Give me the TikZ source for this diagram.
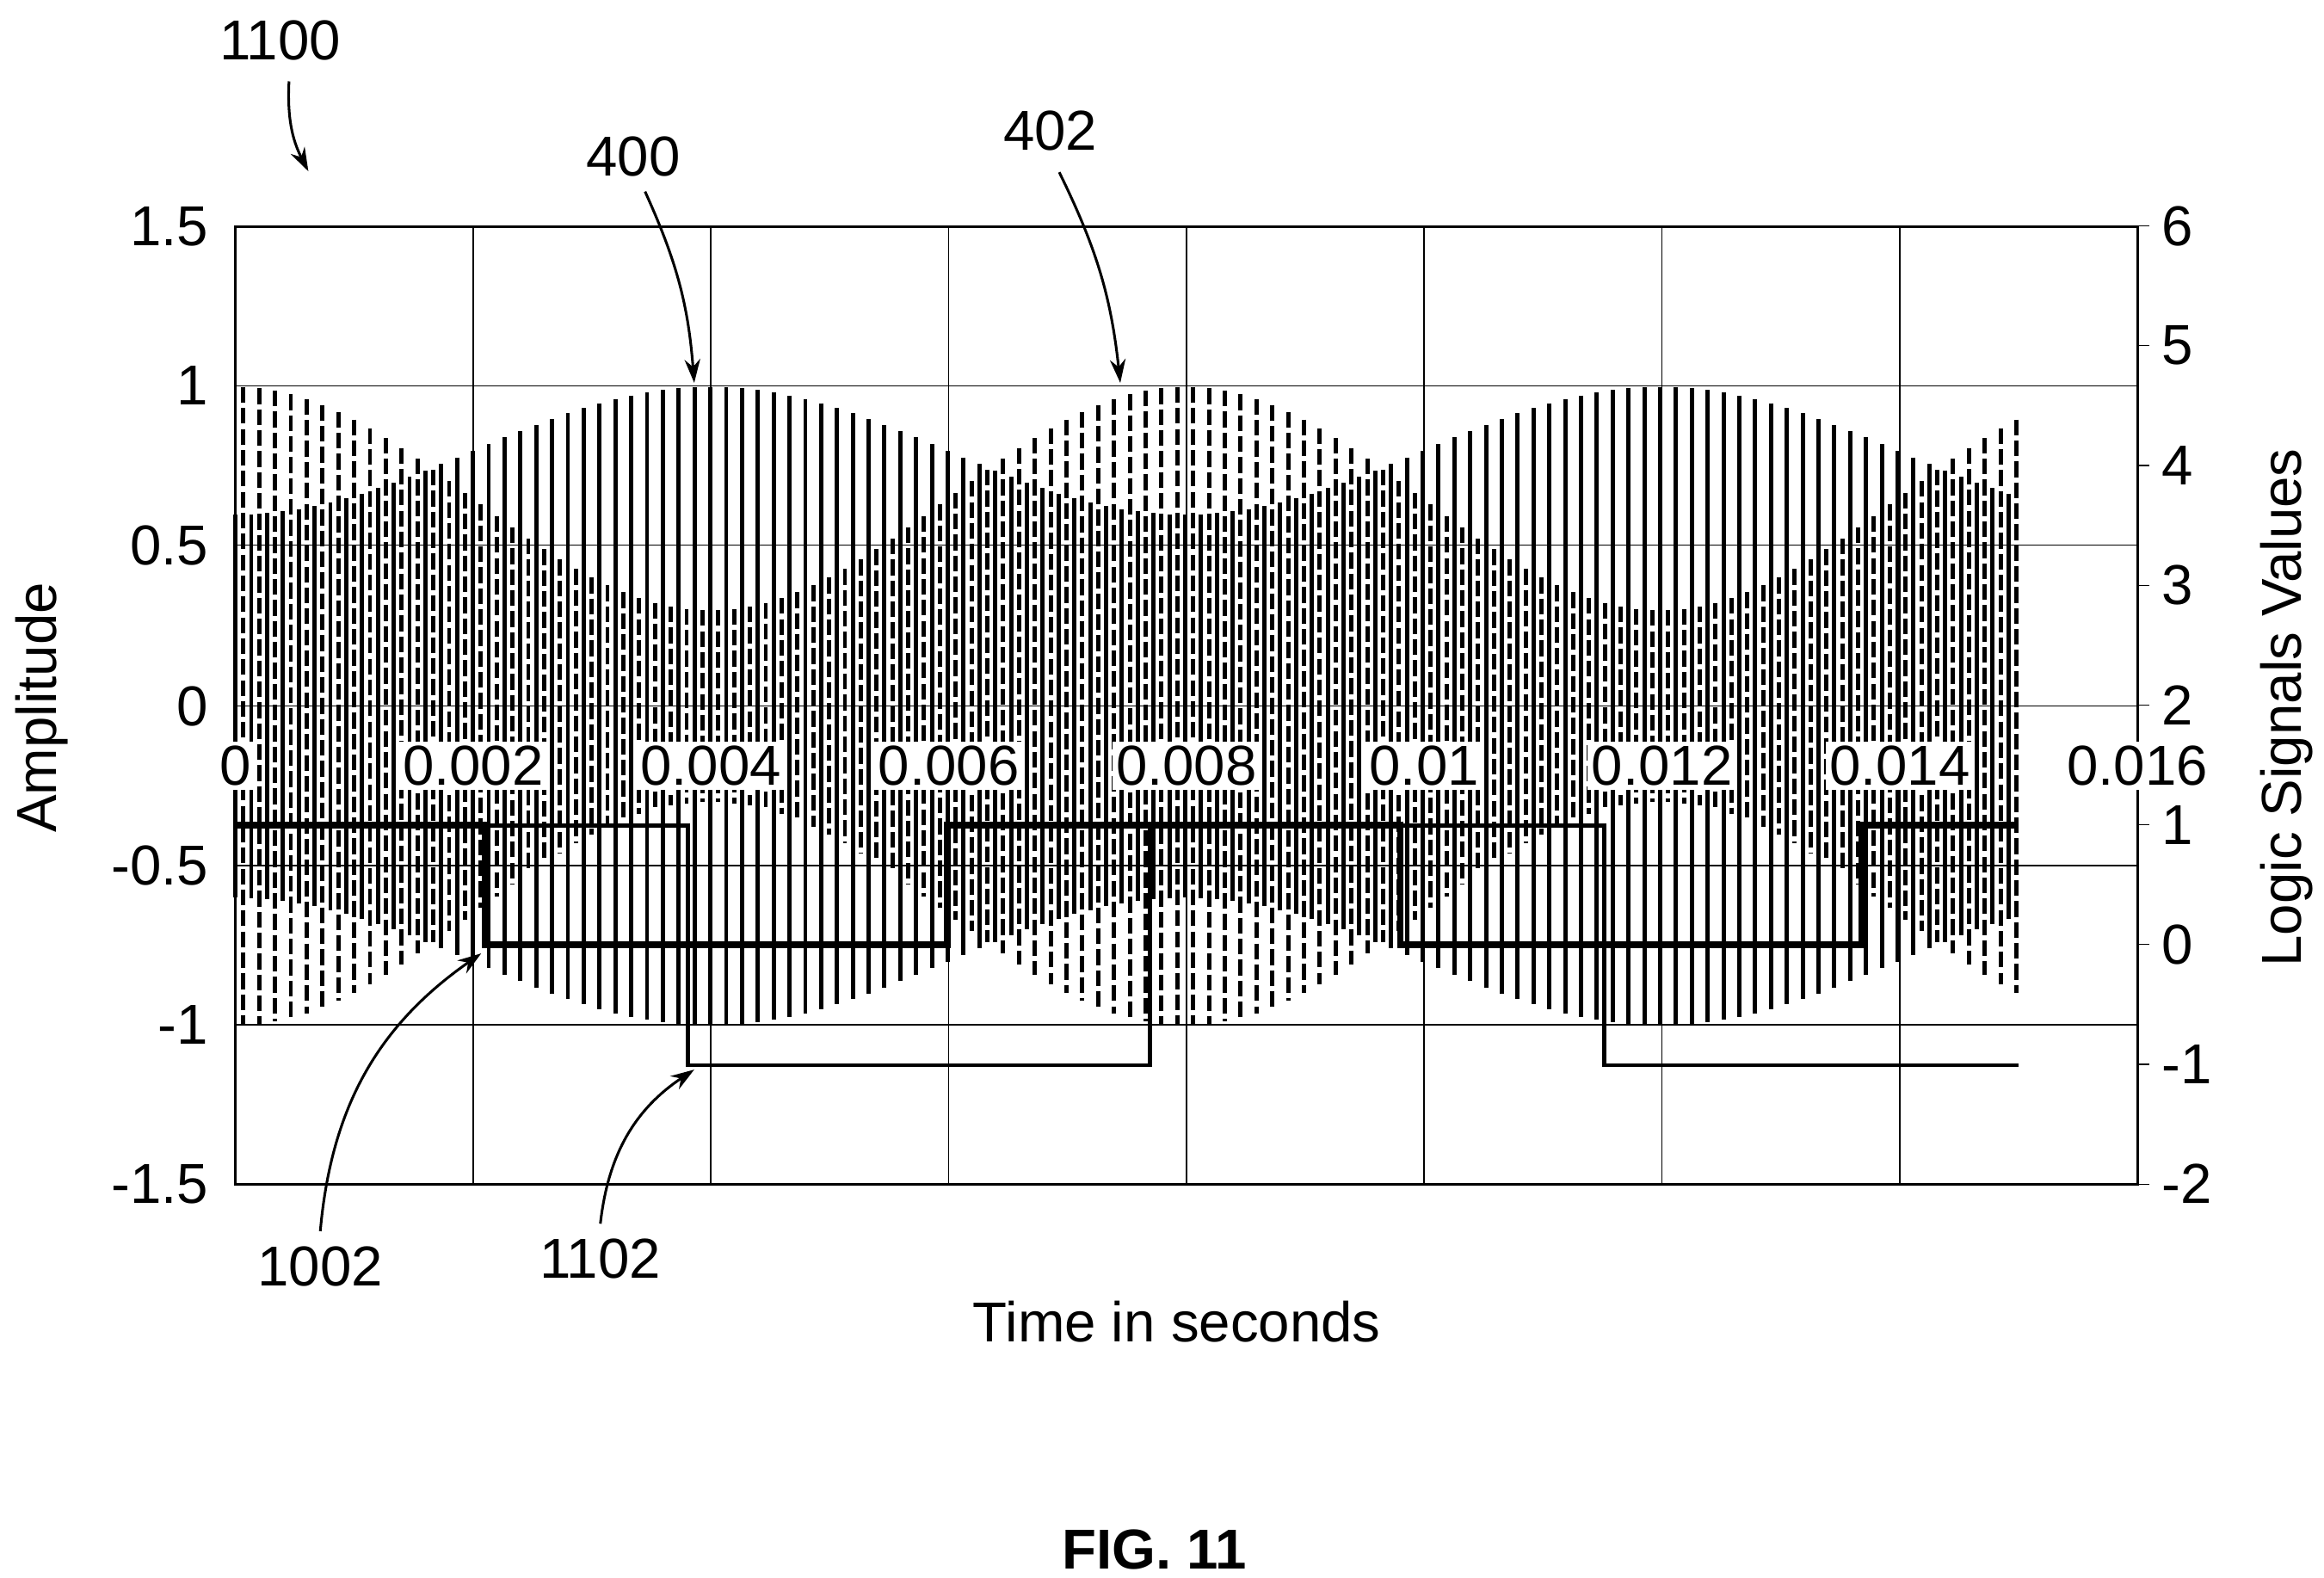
\documentclass[tikz,border=0pt]{standalone}
\usepackage{fontspec}
\setmainfont{Liberation Sans}
\usetikzlibrary{arrows.meta}
\tikzset{
  lbl/.style={font=\fontsize{21.5}{24}\selectfont},
  xlbl/.style={lbl,fill=white,inner sep=1.5pt},
  sig/.style={line width=1.6pt},
  sigd/.style={line width=1.6pt,dash pattern=on 6pt off 2pt},
  logA/.style={line width=2.6pt},
  logB/.style={line width=1.6pt},
  refarrow/.style={-{Stealth[length=9pt,width=6pt]},line width=1pt}
}
\begin{document}
\begin{tikzpicture}[x=0.02cm,y=-0.02cm]
   \useasboundingbox (0,0) rectangle (1560,1059);
   \def\tx#1{158+79.7*#1}

   %rejilla
   \foreach \i in {1,...,7} \draw[line width=0.5pt] ({158+159.6*\i},152) -- ({158+159.6*\i},795);
   \foreach \y in {259,366,474,581,688} \draw[line width=0.5pt] (158,\y) -- (1435,\y);
   \draw[line width=1pt] (158,152) rectangle (1435,795);

   %marcas eje izquierdo
   \foreach \v/\y in {1.5/152,1/259,0.5/366,0/474,-0.5/581,-1/688,-1.5/795}
      \node[lbl,anchor=east] (l\y) at (146,\y) {\v};
   %marcas eje derecho
   \foreach \v in {-2,...,6}{
      \draw ({1435},{634-80.4*\v}) -- ({1443},{634-80.4*\v});
      \node[lbl,anchor=west] (r\v) at (1445,{634-80.4*\v}) {\v};}

   %portadora 400 (continua)
   \foreach \k in {0,...,112}{
      \pgfmathsetmacro\t{\k/7.5}
      \pgfmathsetmacro\a{0.8-0.2*cos(360*\t/8)}
      \draw[sig] ({\tx{\t}},{474-214.3*\a}) -- ({\tx{\t}},{474+214.3*\a});}
   %portadora 402 (discontinua)
   \foreach \k in {0,...,112}{
      \pgfmathsetmacro\t{(\k+0.5)/7.5}
      \pgfmathsetmacro\a{0.65+0.35*cos(360*\t/8)}
      \draw[sigd] ({\tx{\t}},{474-214.3*\a}) -- ({\tx{\t}},{474+214.3*\a});}

   %señales lógicas
   \draw[logB] (158,554) -- (462,554) -- (462,715) -- (772,715) -- (772,554) -- (1077,554) -- (1077,715) -- (1355,715);
   \draw[logA] (158,554) -- (326,554) -- (326,634) -- (636,634) -- (636,554) -- (940,554) -- (940,634) -- (1250,634) -- (1250,554) -- (1355,554);

   %marcas eje X
   \node[xlbl] (x0) at (158,514) {0};
   \foreach \i/\v in {1/0.002,2/0.004,3/0.006,4/0.008,5/0.01,6/0.012,7/0.014,8/0.016}
      \node[xlbl] (x\i) at ({158+159.6*\i},514) {\v};

   %títulos
   \node[lbl,rotate=90] (amp) at (28,475) {Amplitude};
   \node[lbl,rotate=90] (logic) at (1535,475) {Logic Signals Values};
   \node[lbl] (time) at (790,887) {Time in seconds};
   \node[lbl,font=\fontsize{21.5}{24}\selectfont\bfseries] (fig) at (775,1040) {FIG. 11};

   %referencias
   \node[lbl] (n1100) at (188,27) {1100};
   \node[lbl] (n400) at (425,105) {400};
   \node[lbl] (n402) at (705,88) {402};
   \node[lbl] (n1002) at (215,850) {1002};
   \node[lbl] (n1102) at (403,845) {1102};
   \coordinate (p1100) at (207,115);
   \coordinate (p400) at (466,257);
   \coordinate (p402) at (752,257);
   \coordinate (p1002) at (323,640);
   \coordinate (p1102) at (466,718);
   \draw[refarrow] (n1100.south) ++(6,8) to[bend right=15] (p1100);
   \draw[refarrow] (n400.south) ++(8,4) to[bend left=10] (p400);
   \draw[refarrow] (n402.south) ++(6,8) to[bend left=10] (p402);
   \draw[refarrow] (n1002.north) ++(0,-4) to[bend left=25] (p1002);
   \draw[refarrow] (n1102.north) ++(0,-4) to[bend left=25] (p1102);
\end{tikzpicture}
\end{document}
